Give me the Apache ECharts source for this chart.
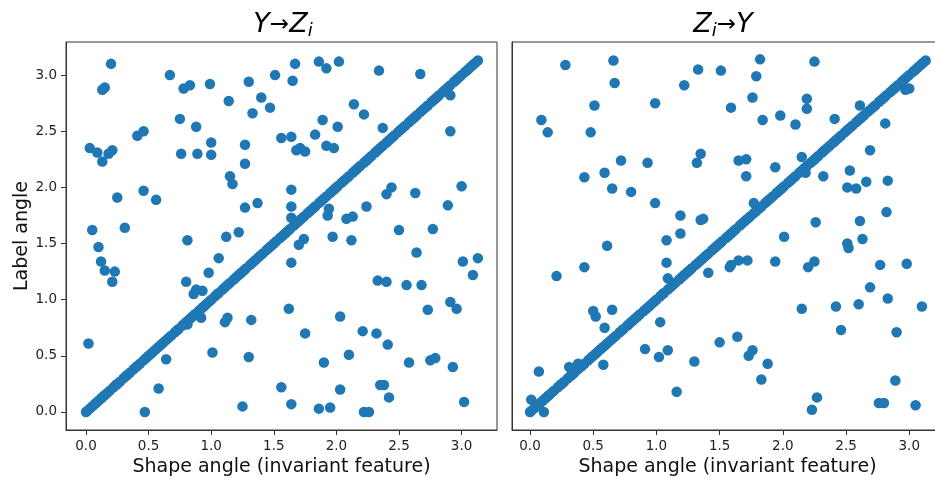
<!DOCTYPE html>
<html>
<head>
<meta charset="utf-8">
<title>Shape angle vs label angle</title>
<script src="https://cdn.jsdelivr.net/npm/echarts@6/dist/echarts.min.js"></script>
<style>
  html, body { margin: 0; padding: 0; background: #fff; }
</style>
</head>
<body>
<!-- 为ECharts准备一个具备大小（宽高）的Dom -->
<div id="main" style="width: 935px;height:480px;"></div>
<script>
// 1.数据（从图上读出来的）
// 对角线上密集的点 (y = x)
var diagAngles = [
  0.00, 0.01, 0.03, 0.05, 0.07, 0.08, 0.10, 0.12, 0.14, 0.15, 0.17, 0.19, 0.22, 0.24, 0.25,
  0.27, 0.30, 0.32, 0.33, 0.35, 0.38, 0.40, 0.41, 0.43, 0.46, 0.48, 0.50, 0.52, 0.54, 0.56,
  0.58, 0.60, 0.62, 0.64, 0.66, 0.68, 0.71, 0.73, 0.74, 0.77, 0.79, 0.81, 0.83, 0.85, 0.87,
  0.90, 0.92, 0.94, 0.96, 0.98, 1.00, 1.03, 1.05, 1.06, 1.09, 1.11, 1.13, 1.15, 1.18, 1.20,
  1.22, 1.24, 1.26, 1.28, 1.31, 1.33, 1.35, 1.37, 1.39, 1.41, 1.44, 1.46, 1.48, 1.50, 1.52,
  1.55, 1.57, 1.59, 1.61, 1.63, 1.66, 1.68, 1.70, 1.72, 1.74, 1.77, 1.79, 1.81, 1.83, 1.86,
  1.88, 1.90, 1.92, 1.95, 1.97, 1.99, 2.01, 2.04, 2.06, 2.08, 2.10, 2.13, 2.15, 2.17, 2.19,
  2.22, 2.24, 2.26, 2.28, 2.31, 2.33, 2.35, 2.37, 2.40, 2.42, 2.44, 2.46, 2.49, 2.51, 2.53,
  2.55, 2.58, 2.60, 2.62, 2.64, 2.67, 2.69, 2.71, 2.73, 2.76, 2.78, 2.80, 2.82, 2.85, 2.87,
  2.89, 2.91, 2.94, 2.96, 2.98, 3.00, 3.03, 3.05, 3.07, 3.09, 3.11, 3.13
]

// 左图 Y→Zi 偏离对角线的点 [shape, label]
var leftPoints = [
  [0.20, 3.10], [0.13, 2.87], [0.15, 2.89], [0.67, 3.00], [0.78, 2.88], [0.83, 2.91], [0.99, 2.92],
  [1.30, 2.94], [1.51, 3.00], [1.14, 2.77], [1.40, 2.80], [1.47, 2.71], [1.33, 2.66], [0.75, 2.61],
  [0.88, 2.54], [0.41, 2.46], [0.46, 2.50], [1.56, 2.44], [0.03, 2.35], [0.09, 2.31], [0.18, 2.30],
  [0.21, 2.33], [0.13, 2.23], [0.76, 2.30], [0.89, 2.30], [1.00, 2.40], [1.00, 2.29], [1.27, 2.38],
  [1.27, 2.21], [1.15, 2.10], [1.17, 2.03], [0.25, 1.91], [0.46, 1.97], [0.56, 1.89], [1.27, 1.82],
  [1.37, 1.86], [0.05, 1.62], [0.31, 1.64], [1.12, 1.56], [1.22, 1.60], [0.81, 1.53], [0.10, 1.47],
  [0.12, 1.34], [0.15, 1.26], [0.23, 1.25], [0.21, 1.16], [1.06, 1.37], [0.98, 1.24], [0.80, 1.16],
  [0.88, 1.09], [0.93, 1.08], [0.86, 1.05], [0.92, 0.84], [0.81, 0.78], [1.11, 0.80], [1.13, 0.84],
  [1.32, 0.82], [0.02, 0.61], [1.01, 0.53], [1.30, 0.49], [0.64, 0.47], [0.58, 0.21], [1.56, 0.22],
  [0.47, 0.00], [1.25, 0.05],
  [1.67, 3.10], [1.65, 2.95], [1.86, 3.12], [1.92, 3.06], [2.02, 3.12], [2.34, 3.04], [2.67, 3.01],
  [2.91, 2.82], [2.14, 2.74], [2.22, 2.65], [1.89, 2.60], [2.01, 2.54], [2.37, 2.53], [2.91, 2.50],
  [1.64, 2.45], [1.83, 2.47], [1.68, 2.33], [1.71, 2.35], [1.75, 2.32], [1.92, 2.37], [1.98, 2.35],
  [1.64, 1.98], [1.64, 1.83], [1.64, 1.73], [1.94, 1.81], [1.93, 1.75], [2.08, 1.72], [2.13, 1.74],
  [2.24, 1.83], [2.44, 2.00], [2.40, 1.94], [2.63, 1.95], [3.00, 2.01], [2.89, 1.84], [2.50, 1.62],
  [2.77, 1.63],
  [1.74, 1.54], [1.70, 1.49], [1.97, 1.56], [2.12, 1.53], [1.64, 1.33], [2.64, 1.42], [3.01, 1.34],
  [3.13, 1.37], [3.09, 1.22], [2.33, 1.17], [2.40, 1.16], [2.56, 1.13], [2.68, 1.13], [2.91, 0.98],
  [2.96, 0.92], [2.73, 0.91], [1.62, 0.92], [2.03, 0.85], [1.75, 0.70], [2.21, 0.72], [2.32, 0.70],
  [2.41, 0.60], [2.10, 0.51], [1.90, 0.44], [2.58, 0.44], [2.75, 0.46], [2.79, 0.48], [2.93, 0.40],
  [2.03, 0.20], [2.35, 0.24], [2.38, 0.24], [2.42, 0.13], [1.64, 0.07], [1.86, 0.03], [1.95, 0.04],
  [2.22, 0.00], [2.26, 0.00], [3.02, 0.09]
]

// 右图 Zi→Y 偏离对角线的点 [shape, label]
var rightPoints = [
  [0.28, 3.09], [0.66, 3.13], [0.67, 2.93], [1.33, 3.05], [1.51, 3.04], [1.22, 2.91], [0.51, 2.73],
  [0.99, 2.75], [0.09, 2.60], [0.14, 2.49], [0.48, 2.49], [1.35, 2.30], [1.32, 2.22], [0.72, 2.24],
  [0.93, 2.22], [0.59, 2.13], [0.43, 2.09], [0.65, 1.99], [0.80, 1.96], [0.99, 1.86], [1.19, 1.75],
  [1.35, 1.71], [1.37, 1.72], [1.19, 1.59],
  [1.82, 3.14], [1.79, 2.99], [2.25, 3.12], [1.76, 2.80], [1.59, 2.71], [2.19, 2.79], [2.19, 2.70],
  [1.84, 2.60], [1.98, 2.64], [2.10, 2.56], [2.41, 2.61], [2.61, 2.73], [2.81, 2.57], [2.97, 2.87],
  [3.00, 2.88], [2.69, 2.33], [1.65, 2.24], [1.71, 2.25], [1.71, 2.10], [1.94, 2.18], [2.15, 2.27],
  [2.18, 2.13], [2.32, 2.10], [2.53, 2.15], [2.66, 2.05], [2.51, 2.00], [2.58, 1.99], [2.83, 2.06],
  [1.77, 1.86], [2.82, 1.78], [2.26, 1.69], [2.61, 1.70], [2.01, 1.56], [2.63, 1.54],
  [1.08, 1.53], [0.61, 1.48], [1.08, 1.33], [1.09, 1.19], [0.43, 1.29], [0.21, 1.21], [1.41, 1.24],
  [0.50, 0.90], [0.52, 0.85], [0.65, 0.91], [0.59, 0.75], [1.03, 0.80], [0.91, 0.56], [1.02, 0.49],
  [1.09, 0.55], [1.30, 0.45], [1.50, 0.62], [0.58, 0.42], [0.31, 0.40], [0.38, 0.43], [0.07, 0.36],
  [1.16, 0.18], [0.01, 0.11], [0.11, 0.00],
  [2.51, 1.50], [2.52, 1.46], [1.58, 1.29], [1.59, 1.31], [1.65, 1.35], [1.72, 1.35], [1.94, 1.34],
  [2.20, 1.29], [2.25, 1.34], [2.77, 1.31], [2.98, 1.32], [2.69, 1.11], [2.83, 1.01], [2.15, 0.92],
  [2.42, 0.94], [2.60, 0.96], [3.10, 0.94], [2.46, 0.73], [2.90, 0.71], [1.64, 0.67], [1.76, 0.55],
  [1.73, 0.50], [1.88, 0.43], [1.83, 0.29], [2.89, 0.28], [2.27, 0.13], [2.23, 0.02], [2.76, 0.08],
  [2.80, 0.08], [3.05, 0.06]
]

// 刻度
var tickValues = [0, 0.5, 1, 1.5, 2, 2.5, 3]

var xName = 'Shape angle (invariant feature)'
var yName = 'Label angle'
var dotColor = '#1f77b4'
var fontFamily = 'DejaVu Sans'

// 2.初始化echarts实例
var myChart = echarts.init(document.getElementById('main'))

var diagData = diagAngles.map(function (v) { return [v, v] })

function makeXAxis (gridIndex, min, max) {
  return {
    type: 'value',
    gridIndex: gridIndex,
    min: min,
    max: max,
    axisLine: { show: true, onZero: false, lineStyle: { color: '#333', width: 1 } },
    splitLine: { show: false },
    axisTick: {
      show: true,
      inside: false,
      length: 5,
      customValues: tickValues,
      lineStyle: { color: '#333', width: 1 }
    },
    axisLabel: {
      customValues: tickValues,
      formatter: function (v) { return v.toFixed(1) },
      fontFamily: fontFamily,
      fontSize: 13.5,
      color: '#222',
      margin: 9
    },
    name: xName,
    nameLocation: 'middle',
    nameGap: 27,
    nameTextStyle: { fontFamily: fontFamily, fontSize: 19, color: '#111' }
  }
}

function makeSeries (index, points) {
  return {
    type: 'scatter',
    xAxisIndex: index,
    yAxisIndex: index,
    symbolSize: 10.5,
    itemStyle: { color: dotColor, opacity: 1 },
    emphasis: { disabled: true },
    data: diagData.concat(points)
  }
}

var titleRich = {
  i: { fontFamily: fontFamily, fontSize: 27, fontStyle: 'italic', color: '#111' },
  a: { fontFamily: fontFamily, fontSize: 23, color: '#111' },
  s: { fontFamily: fontFamily, fontSize: 18, fontStyle: 'italic', color: '#111', padding: [13, 0, 0, 0] }
}

var option = {
  animation: false,
  backgroundColor: '#fff',
  grid: [
    { left: 66, top: 42, width: 431, height: 388, outerBoundsMode: 'none', containLabel: false, show: true, borderColor: '#333', borderWidth: 1 },
    { left: 512, top: 42, width: 431, height: 388, outerBoundsMode: 'none', containLabel: false, show: true, borderColor: '#333', borderWidth: 1 }
  ],
  xAxis: [
    makeXAxis(0, -0.1597, 3.2827),
    makeXAxis(1, -0.1424, 3.267)
  ],
  yAxis: [
    {
      type: 'value',
      gridIndex: 0,
      min: -0.1603,
      max: 3.2947,
      axisLine: { show: true, onZero: false, lineStyle: { color: '#333', width: 1 } },
      splitLine: { show: false },
      axisTick: {
        show: true,
        inside: false,
        length: 5,
        customValues: tickValues,
        lineStyle: { color: '#333', width: 1 }
      },
      axisLabel: {
        customValues: tickValues,
        formatter: function (v) { return v.toFixed(1) },
        fontFamily: fontFamily,
        fontSize: 13.5,
        color: '#222',
        margin: 9
      },
      name: yName,
      nameLocation: 'middle',
      nameGap: 27,
      nameTextStyle: { fontFamily: fontFamily, fontSize: 19, color: '#111' }
    },
    {
      type: 'value',
      gridIndex: 1,
      min: -0.1603,
      max: 3.2947,
      axisLine: { show: true, onZero: false, lineStyle: { color: '#333', width: 1 } },
      splitLine: { show: false },
      axisTick: { show: false },
      axisLabel: { show: false }
    }
  ],
  graphic: [
    {
      type: 'text',
      x: 283,
      y: 25,
      style: {
        text: '{i|Y}{a|→}{i|Z}{s|i}',
        rich: titleRich,
        align: 'center',
        verticalAlign: 'middle'
      }
    },
    {
      type: 'text',
      x: 723,
      y: 25,
      style: {
        text: '{i|Z}{s|i}{a|→}{i|Y}',
        rich: titleRich,
        align: 'center',
        verticalAlign: 'middle'
      }
    }
  ],
  series: [
    makeSeries(0, leftPoints),
    makeSeries(1, rightPoints)
  ]
}

// 3.显示图表
myChart.setOption(option)
</script>
</body>
</html>
